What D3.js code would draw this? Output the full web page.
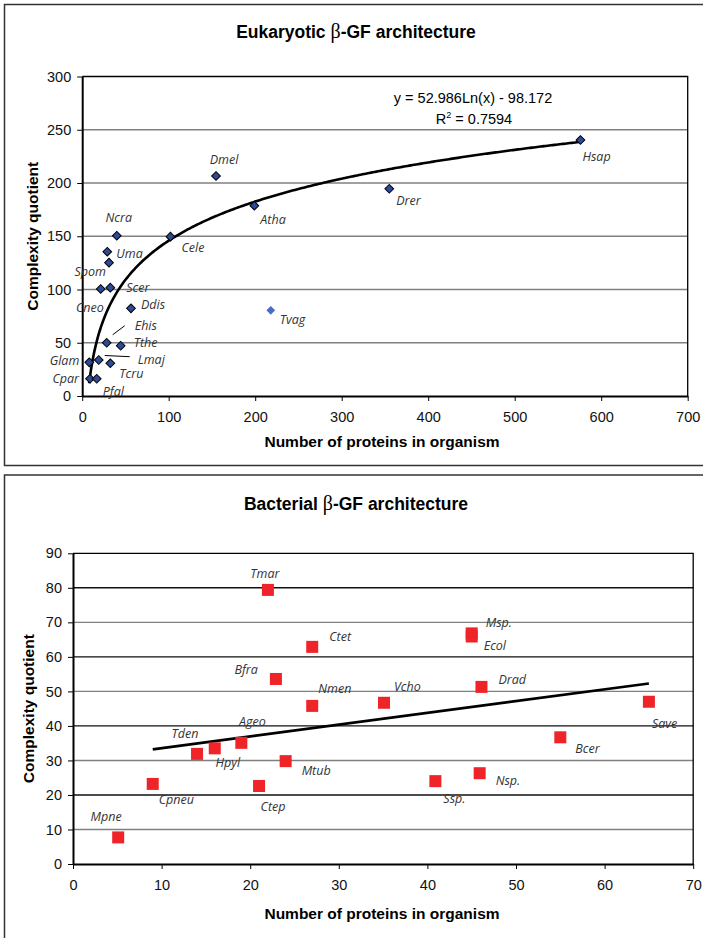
<!DOCTYPE html>
<html>
<head>
<meta charset="utf-8">
<script src="https://cdn.jsdelivr.net/npm/d3@7"></script>
<style>
  body { margin: 0; background: #fff; }
  svg { display: block; }
  text { font-family: "Liberation Sans", Arial, sans-serif; }
  .lbl { font-family: "Open Sans", "Noto Sans", sans-serif; font-style: italic; font-size: 12.5px; fill: #333; }
</style>
</head>
<body>
<div id="chart"></div>
<script>
// eukaryotic organisms
const eukNames = ['Ncra', 'Uma', 'Spom', 'Cele', 'Atha', 'Cneo', 'Scer', 'Ddis', 'Tvag', 'Ehis',
  'Tthe', 'Lmaj', 'Glam', 'Tcru', 'Cpar', 'Pfal', 'Dmel', 'Drer', 'Hsap']
const eukProteins = [40, 29, 31, 102, 199, 21.4, 32.5, 56.4, 218, 28.3,
  44.5, 19.1, 8.2, 32.5, 9, 16.8, 154.7, 355, 576]
const eukComplexity = [150.5, 135.5, 125.2, 149.6, 178.7, 100.5, 101.7, 82.3, 80.5, 50,
  47.2, 33.8, 31.6, 30.7, 16.2, 16.2, 206.6, 194.6, 240.4]
const eukXTicks = [0, 100, 200, 300, 400, 500, 600, 700]
const eukYTicks = [0, 50, 100, 150, 200, 250, 300]
// log fit as printed on the chart
const eukFitA = 52.986
const eukFitB = -98.172
const eukFitR2 = 0.7594
const eukFitRange = [8, 576]

// bacterial organisms
const bacNames = ['Tmar', 'Ctet', 'Bfra', 'Nmen', 'Mpne', 'Cpneu', 'Tden', 'Hpyl', 'Ageo', 'Ctep',
  'Mtub', 'Msp.', 'Ecol', 'Vcho', 'Drad', 'Save', 'Bcer', 'Ssp.', 'Nsp.']
const bacProteins = [22, 27, 22.9, 27, 5.1, 9, 14, 16, 19, 21,
  24, 45, 45, 35.1, 46.1, 65, 55, 40.9, 45.9]
const bacComplexity = [79.4, 62.9, 53.6, 45.8, 7.7, 23.2, 31.9, 33.5, 35.1, 22.6,
  29.8, 66.8, 65.9, 46.7, 51.3, 47, 36.7, 24, 26.3]
const bacXTicks = [0, 10, 20, 30, 40, 50, 60, 70]
const bacYTicks = [0, 10, 20, 30, 40, 50, 60, 70, 80, 90]
// linear trend line ends
const bacTrendX = [9, 65]
const bacTrendY = [33.2, 52.3]

const width = 703
const height = 938

const svg = d3.select('#chart').append('svg')
  .attr('width', width)
  .attr('height', height)

// frames
svg.append('rect')
  .attr('x', 4.5).attr('y', 4.5).attr('width', 720).attr('height', 461)
  .attr('fill', 'none').attr('stroke', '#333').attr('stroke-width', 1.5)
svg.append('rect')
  .attr('x', 4.5).attr('y', 475).attr('width', 720).attr('height', 500)
  .attr('fill', 'none').attr('stroke', '#333').attr('stroke-width', 1.5)

// label placement [dx, dy, anchor] relative to the marker
const eukLabelPos = {
  Ncra: [2, -14, 'middle'], Uma: [9, 6, 'start'], Spom: [-3, 13, 'end'], Cele: [11, 15, 'start'],
  Atha: [6, 18, 'start'], Cneo: [3, 23, 'end'], Scer: [16, 4, 'start'], Ddis: [10, 1, 'start'],
  Tvag: [9, 14, 'start'], Ehis: [28, -13, 'start'], Tthe: [13, 1, 'start'], Lmaj: [39, 4, 'start'],
  Glam: [-10, 3, 'end'], Tcru: [9, 15, 'start'], Cpar: [-11, 4, 'end'], Pfal: [6, 17, 'start'],
  Dmel: [8, -12, 'middle'], Drer: [7, 16, 'start'], Hsap: [2, 21, 'start']
}
const bacLabelPos = {
  Tmar: [-3, -12, 'middle'], Ctet: [17, -6, 'start'], Bfra: [-18, -5, 'end'], Nmen: [6, -13, 'start'],
  Mpne: [-12, -16, 'middle'], Cpneu: [6, 20, 'start'], Tden: [-12, -16, 'middle'], Hpyl: [13, 19, 'middle'],
  Ageo: [11, -17, 'middle'], Ctep: [14, 25, 'middle'], Mtub: [16, 14, 'start'], 'Msp.': [14, -6, 'start'],
  Ecol: [12, 14, 'start'], Vcho: [10, -12, 'start'], Drad: [17, -3, 'start'], Save: [3, 26, 'start'],
  Bcer: [15, 16, 'start'], 'Ssp.': [8, 22, 'start'], 'Nsp.': [16, 12, 'start']
}

function drawFrame({ title, xDomain, yDomain, xTicks, yTicks, left, right, top, bottom, titleY, xTitleY, yTitleX, gridColor }) {
  const x = d3.scaleLinear().domain(xDomain).range([left, right])
  const y = d3.scaleLinear().domain(yDomain).range([bottom, top])
  const g = svg.append('g')

  // grid
  g.append('g')
    .selectAll('line')
    .data(yTicks.slice(1, -1))
    .join('line')
    .attr('x1', left).attr('x2', right)
    .attr('y1', d => y(d)).attr('y2', d => y(d))
    .attr('stroke', gridColor)
    .attr('stroke-width', typeof gridColor === 'function' ? 1.4 : 1.6)

  // plot border (top + right)
  g.append('path')
    .attr('d', `M${left},${top}H${right}V${bottom}`)
    .attr('fill', 'none').attr('stroke', '#000').attr('stroke-width', 1.3)

  const xAxis = g.append('g')
    .attr('transform', `translate(0,${bottom})`)
    .call(d3.axisBottom(x).tickValues(xTicks).tickSize(5).tickSizeOuter(0).tickPadding(11))
  const yAxis = g.append('g')
    .attr('transform', `translate(${left},0)`)
    .call(d3.axisLeft(y).tickValues(yTicks).tickSize(5).tickSizeOuter(0).tickPadding(6))
  for (const ax of [xAxis, yAxis]) {
    ax.select('.domain').attr('stroke-width', 2)
    ax.selectAll('.tick line').attr('stroke-width', 1)
    ax.selectAll('text').attr('font-size', 14.5).attr('fill', '#111')
      .attr('font-family', '"Liberation Sans", Arial, sans-serif')
  }

  // title with greek beta
  const t = g.append('text')
    .attr('x', 356).attr('y', titleY)
    .attr('text-anchor', 'middle')
    .attr('font-size', 17.5).attr('font-weight', 'bold')
  t.append('tspan').text(title[0])
  t.append('tspan').attr('font-family', '"Liberation Serif", serif').attr('font-weight', 'normal').attr('font-size', 20).text('β')
  t.append('tspan').text(title[1])

  // axis titles
  g.append('text')
    .attr('x', 382).attr('y', xTitleY)
    .attr('text-anchor', 'middle')
    .attr('font-size', 15.5).attr('font-weight', 'bold')
    .text('Number of proteins in organism')
  g.append('text')
    .attr('transform', `translate(${yTitleX},${(top + bottom) / 2}) rotate(-90)`)
    .attr('text-anchor', 'middle')
    .attr('font-size', 15.5).attr('font-weight', 'bold')
    .text('Complexity quotient')

  return { x, y, g }
}

// ---- Eukaryotic chart
const euk = drawFrame({
  title: ['Eukaryotic ', '-GF architecture'],
  xDomain: [0, 700], yDomain: [0, 300],
  xTicks: eukXTicks, yTicks: eukYTicks,
  left: 82.2, right: 687.7, top: 76.5, bottom: 396,
  titleY: 37.5, xTitleY: 446.5, yTitleX: 37.5, gridColor: '#808080'
})

// fitted log curve
const fitXs = d3.range(eukFitRange[0], eukFitRange[1] + 1, 2)
euk.g.append('path')
  .datum(fitXs)
  .attr('fill', 'none')
  .attr('stroke', '#000')
  .attr('stroke-width', 2.6)
  .attr('d', d3.line()
    .x(d => euk.x(d))
    .y(d => euk.y(eukFitA * Math.log(d) + eukFitB)))

// leader lines for Ehis and Lmaj
const ehis = eukNames.indexOf('Ehis'), lmaj = eukNames.indexOf('Lmaj')
euk.g.append('line')
  .attr('x1', euk.x(eukProteins[ehis]) + 6).attr('y1', euk.y(eukComplexity[ehis]) - 8)
  .attr('x2', euk.x(eukProteins[ehis]) + 18).attr('y2', euk.y(eukComplexity[ehis]) - 17)
  .attr('stroke', '#000').attr('stroke-width', 1)
euk.g.append('line')
  .attr('x1', euk.x(eukProteins[lmaj]) + 6).attr('y1', euk.y(eukComplexity[lmaj]) - 4.5)
  .attr('x2', euk.x(eukProteins[lmaj]) + 31).attr('y2', euk.y(eukComplexity[lmaj]) - 3.3)
  .attr('stroke', '#000').attr('stroke-width', 1)

const diamond = d3.symbol().type(d3.symbolSquare).size(38)
euk.g.append('g')
  .selectAll('path')
  .data(eukNames)
  .join('path')
  .attr('d', diamond)
  .attr('transform', (d, i) => `translate(${euk.x(eukProteins[i])},${euk.y(eukComplexity[i])}) rotate(45)`)
  .attr('fill', d => d === 'Tvag' ? '#4a6cc4' : '#2c4a96')
  .attr('stroke', d => d === 'Tvag' ? 'none' : '#000')
  .attr('stroke-width', 1)

euk.g.append('g')
  .selectAll('text')
  .data(eukNames)
  .join('text')
  .attr('class', 'lbl')
  .attr('x', (d, i) => euk.x(eukProteins[i]) + eukLabelPos[d][0])
  .attr('y', (d, i) => euk.y(eukComplexity[i]) + eukLabelPos[d][1])
  .attr('text-anchor', d => eukLabelPos[d][2])
  .text(d => d)

// equation
euk.g.append('text')
  .attr('x', 473).attr('y', 103)
  .attr('text-anchor', 'middle').attr('font-size', 14.5)
  .text(`y = ${eukFitA}Ln(x) - ${-eukFitB}`)
const r2 = euk.g.append('text')
  .attr('x', 474).attr('y', 124)
  .attr('text-anchor', 'middle').attr('font-size', 14.5)
r2.append('tspan').text('R')
r2.append('tspan').attr('font-size', 9).attr('dy', -6).text('2')
r2.append('tspan').attr('dy', 6).text(` = ${eukFitR2}`)

// ---- Bacterial chart
const bac = drawFrame({
  title: ['Bacterial ', '-GF architecture'],
  xDomain: [0, 70], yDomain: [0, 90],
  xTicks: bacXTicks, yTicks: bacYTicks,
  left: 73, right: 693.2, top: 553.3, bottom: 864,
  titleY: 509.5, xTitleY: 918.5, yTitleX: 33.5, gridColor: d => d % 20 === 0 ? '#111' : '#808080'
})

bac.g.append('path')
  .datum(d3.zip(bacTrendX, bacTrendY))
  .attr('fill', 'none')
  .attr('stroke', '#000')
  .attr('stroke-width', 2.6)
  .attr('d', d3.line().x(d => bac.x(d[0])).y(d => bac.y(d[1])))

bac.g.append('g')
  .selectAll('rect')
  .data(bacNames)
  .join('rect')
  .attr('x', (d, i) => bac.x(bacProteins[i]) - 6)
  .attr('y', (d, i) => bac.y(bacComplexity[i]) - 6)
  .attr('width', 12).attr('height', 12)
  .attr('fill', '#ee2428')

bac.g.append('g')
  .selectAll('text')
  .data(bacNames)
  .join('text')
  .attr('class', 'lbl')
  .attr('x', (d, i) => bac.x(bacProteins[i]) + bacLabelPos[d][0])
  .attr('y', (d, i) => bac.y(bacComplexity[i]) + bacLabelPos[d][1])
  .attr('text-anchor', d => bacLabelPos[d][2])
  .text(d => d)
</script>
</body>
</html>
